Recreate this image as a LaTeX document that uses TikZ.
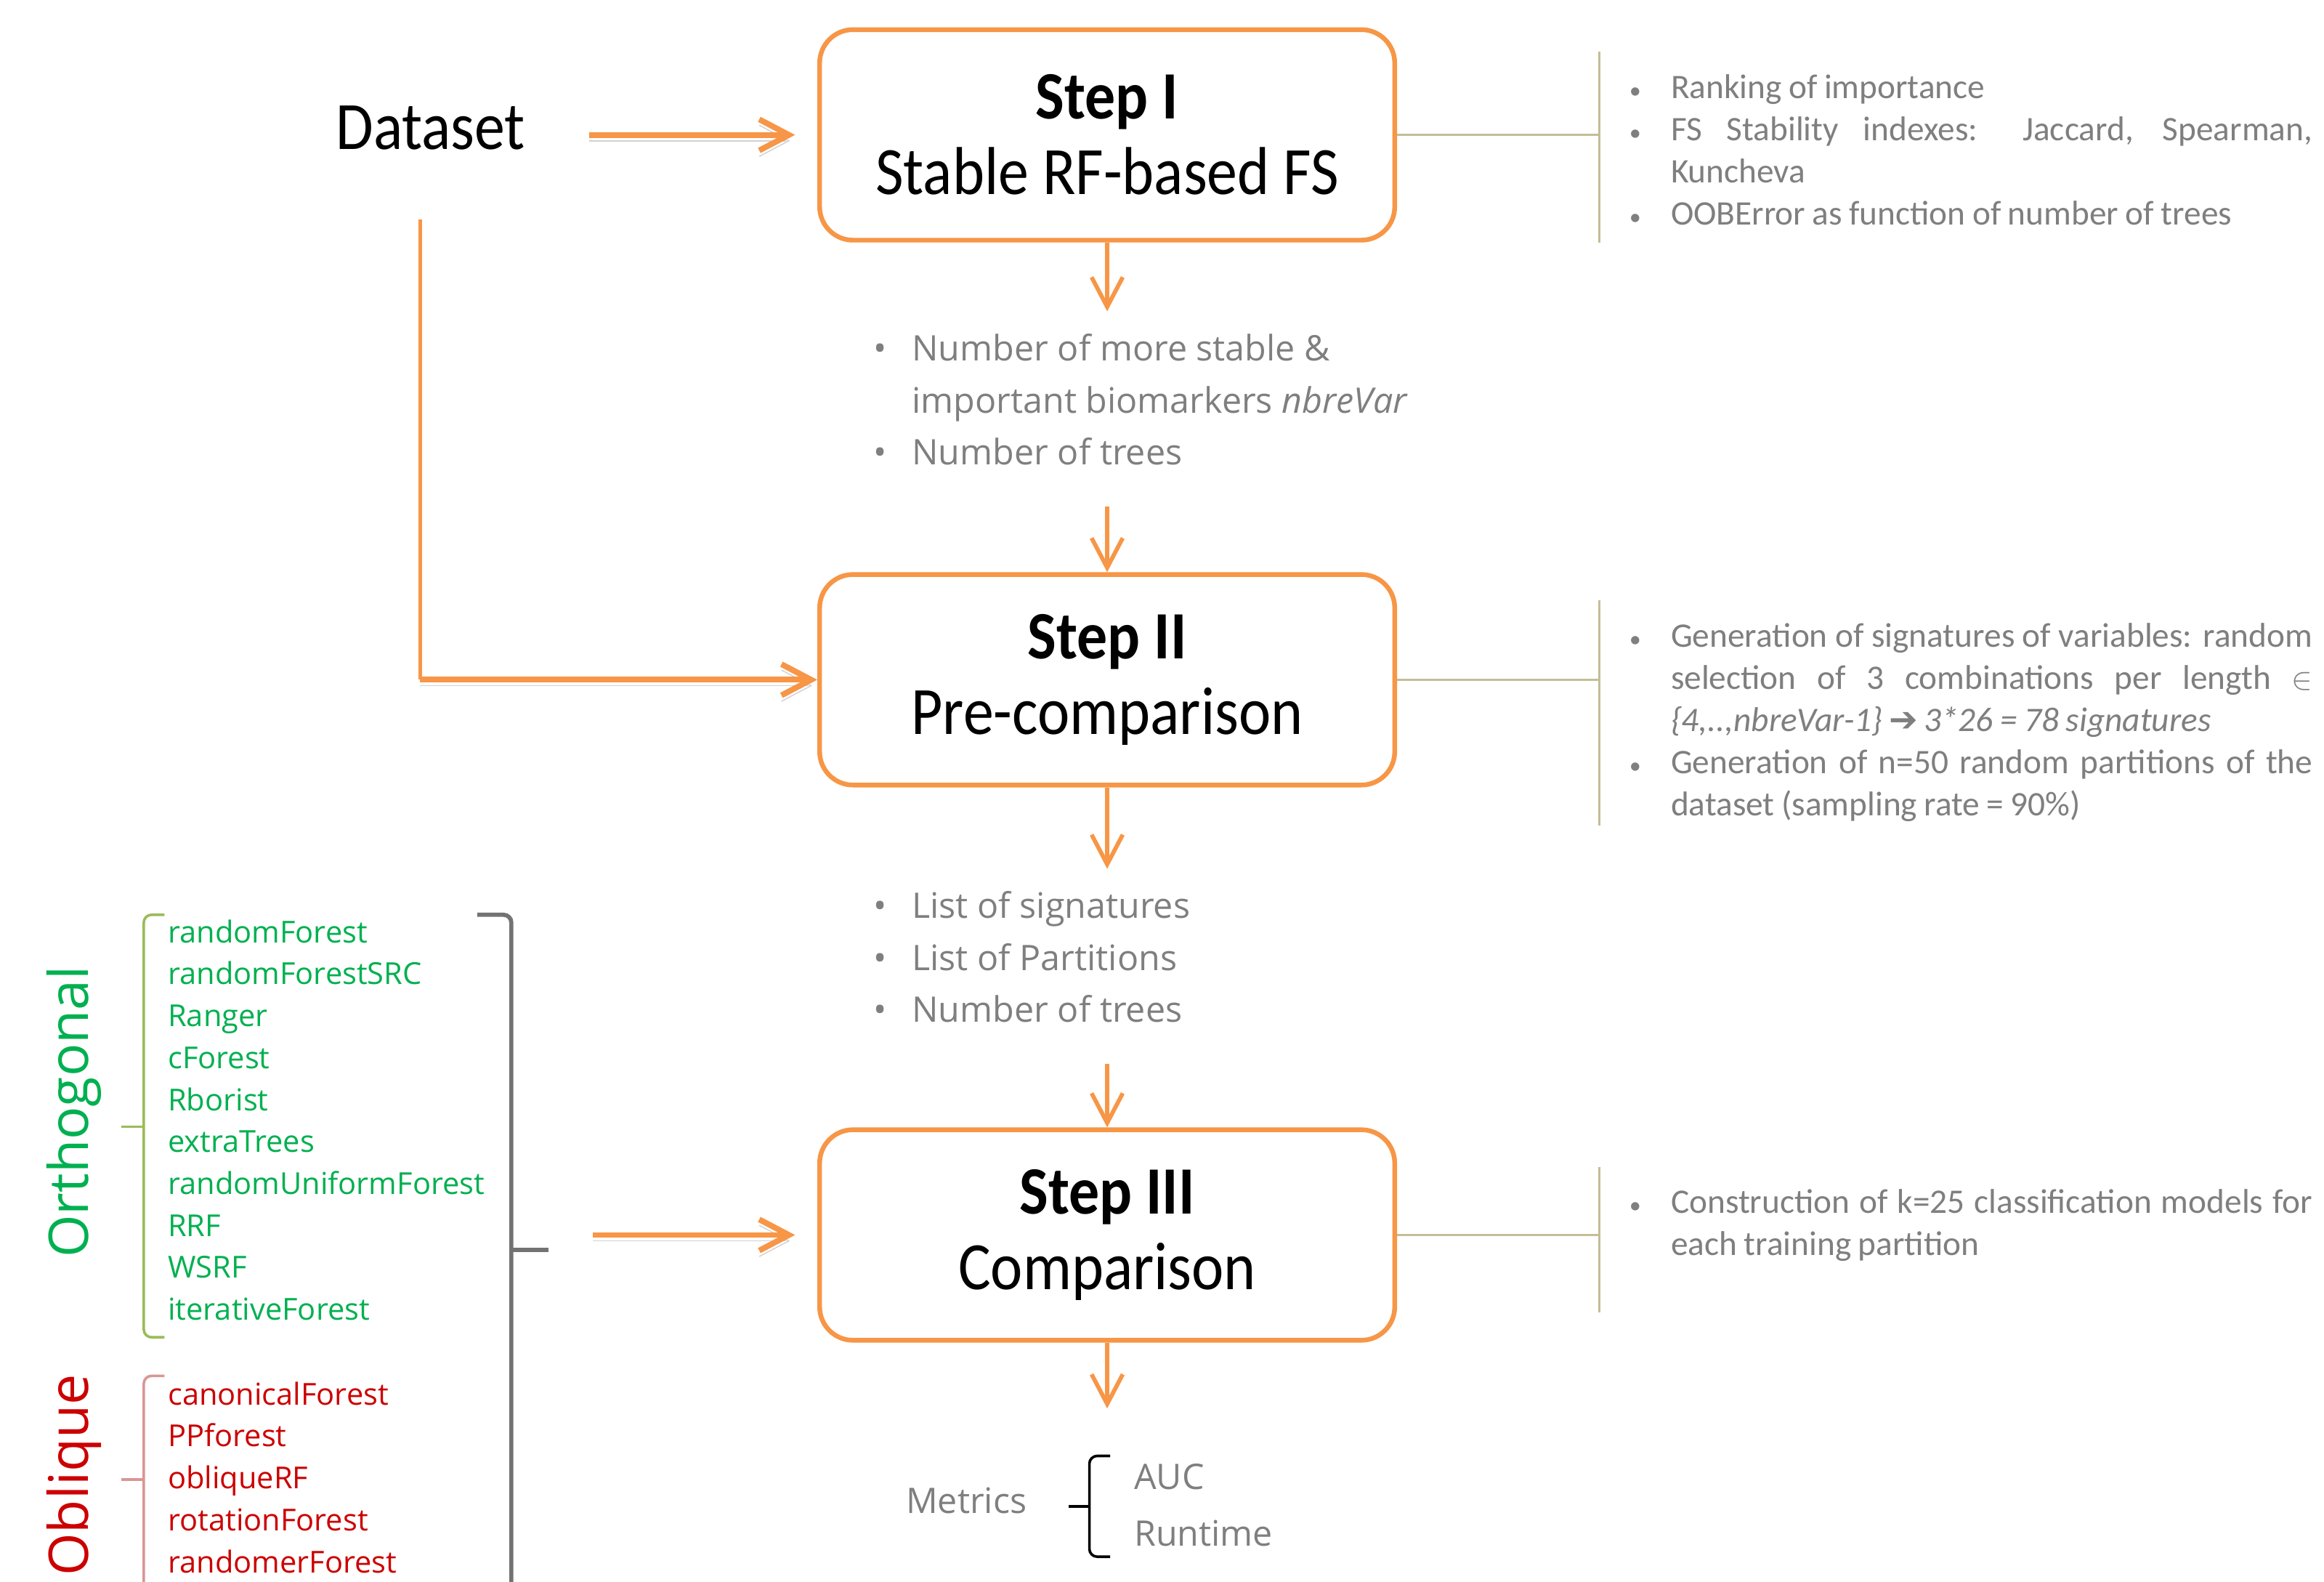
\documentclass[tikz,border=0pt]{standalone}
\usepackage{fontspec}
\setmainfont{Carlito}
\newfontfamily\titlefont{Carlito}[FakeStretch=0.9]
\newfontfamily\listfont{Open Sans}
\newfontfamily\symfont{DejaVu Sans}
\usetikzlibrary{arrows.meta}

\definecolor{stepOrange}{HTML}{F79646}
\definecolor{ruleTan}{HTML}{C4BD97}
\definecolor{noteGrey}{HTML}{7F7F7F}
\definecolor{orthoGreen}{HTML}{00B050}
\definecolor{orthoBrace}{HTML}{9BBB59}
\definecolor{obliqueRed}{HTML}{CC0000}
\definecolor{obliqueBrace}{HTML}{D99694}

\newcommand{\bul}{\makebox[0.52cm][l]{\textbullet}}
\newcommand{\nitem}{\par\noindent\hangindent=0.56cm\hangafter=1%
  \makebox[0.56cm][l]{{\fontsize{9}{9}\selectfont\textbullet}}}

\begin{document}
\begin{tikzpicture}[>={Straight Barb[length=0.4cm,width=0.42cm]},
    stepbox/.style={draw=stepOrange, line width=1.8pt, rounded corners=0.45cm,
      minimum width=7.76cm, minimum height=2.84cm, align=center,
      font=\titlefont\fontsize{26}{29}\selectfont},
    flow/.style={->, draw=stepOrange, line width=1.6pt},
    orangerule/.style={draw=stepOrange, line width=1.6pt},
    bigflow/.style={->, draw=stepOrange, line width=2.2pt,
      preaction={draw=black!18, transform canvas={yshift=-0.08cm}}},
    noterule/.style={draw=ruleTan, line width=1pt},
    note/.style={anchor=north west, text width=9.22cm, inner xsep=0.4cm,
      inner ysep=0.05cm, align=justify, text=noteGrey,
      font={\fontsize{13.2}{16.2}\selectfont\hyphenpenalty=10000
        \spaceskip=.2em plus .6em minus .1em}},
    listtext/.style={text=noteGrey, font=\listfont\fontsize{13.5}{19.9}\selectfont},
    midlist/.style={listtext, anchor=north west, inner xsep=0pt,
      inner ysep=0.3cm, align=left},
    forestlist/.style={anchor=west, inner sep=0pt, align=left,
      font=\listfont\fontsize{11.6}{16.1}\selectfont},
    family/.style={rotate=90, font=\listfont\fontsize{21}{24}\selectfont},
    brace/.style={line width=1pt, rounded corners=3pt}]

  \useasboundingbox (0,0) rectangle (31.36,-21.34);
  \fill[white] (0,0) rectangle (31.36,-21.34);
  \clip (0,0) rectangle (31.36,-21.34);

  \node[stepbox] (step1) at (14.94,-1.82) {\textbf{Step I}\\Stable RF-based FS};
  \node[stepbox] (step2) at (14.94,-9.17) {\textbf{Step II}\\Pre-comparison};
  \node[stepbox] (step3) at (14.94,-16.66) {\textbf{Step III}\\Comparison};
  \node[inner sep=0pt, font=\titlefont\fontsize{26}{29}\selectfont] (dataset) at (5.81,-1.72) {Dataset};

  \node[midlist] (out1) at (11.78,-4.2) {\bul Number of more stable \&\\
    \hspace*{0.52cm}important biomarkers \textit{nbreVar}\\\bul Number of trees};
  \node[midlist] (out2) at (11.78,-11.72) {\bul List of signatures\\
    \bul List of Partitions\\\bul Number of trees};

  \node[listtext] (metrics) at (13.04,-20.24) {Metrics};
  \node[listtext, anchor=west] (auc) at (15.18,-19.92) {AUC};
  \node[listtext, anchor=west] (runtime) at (15.18,-20.68) {Runtime};
  \draw[brace, black] (14.98,-19.64) -- (14.7,-19.64) -- (14.7,-21.0) -- (14.98,-21.0);
  \draw[brace, black] (14.7,-20.32) -- (14.42,-20.32);

  \node[note] (note1) at (21.58,-0.7) {\nitem Ranking of importance
    \nitem FS Stability indexes: Jaccard, Spearman, Kuncheva
    \nitem OOBError as function of number of trees\par};
  \node[note] (note2) at (21.58,-8.1) {\nitem Generation of signatures of variables: random
    selection of 3 combinations per length $\in$ \textit{\{4,..,nbreVar-1\}}
    {\symfont ➔}\,\textit{3*26 = 78 signatures}
    \nitem Generation of n=50 random partitions of the dataset (sampling rate = 90\%)\par};
  \node[note] (note3) at (21.58,-15.74) {\nitem Construction of k=25 classification
    models for each training partition\par};

  \draw[noterule] (step1.east) -- (step1.east -| note1.west);
  \draw[noterule] (note1.north west) -- ([yshift=-0.18cm]note1.south west);
  \draw[noterule] (step2.east) -- (step2.east -| note2.west);
  \draw[noterule] (note2.north west) -- (note2.south west);
  \draw[noterule] (step3.east) -- (step3.east -| note3.west);
  \draw[noterule] (note3.north west) -- ([yshift=-0.63cm]note3.south west);

  \node[family, text=orthoGreen] (ortho) at (1.0,-15.0) {Orthogonal};
  \node[family, text=obliqueRed] (oblique) at (1.0,-19.9) {Oblique};
  \node[forestlist, text=orthoGreen] (orthoalgos) at (2.26,-15.11) {randomForest\\
    randomForestSRC\\Ranger\\cForest\\Rborist\\extraTrees\\randomUniformForest\\
    RRF\\WSRF\\iterativeForest};
  \node[forestlist, text=obliqueRed] (obliquealgos) at (2.26,-19.93) {canonicalForest\\
    PPforest\\obliqueRF\\rotationForest\\randomerForest};

  \draw[brace, orthoBrace] (2.22,-12.34) -- (1.94,-12.34) -- (1.94,-18.04) -- (2.22,-18.04);
  \draw[brace, orthoBrace] (1.94,-15.2) -- (1.64,-15.2);
  \draw[brace, obliqueBrace] (2.22,-18.56) -- (1.94,-18.56) -- (1.94,-21.9);
  \draw[brace, obliqueBrace] (1.94,-19.96) -- (1.64,-19.96);
  \draw[brace, black!55, line width=1.6pt] (6.44,-12.34) -- (6.9,-12.34) -- (6.9,-21.9);
  \draw[brace, black!55, line width=1.6pt] (6.9,-16.86) -- (7.4,-16.86);

  \coordinate (bend) at ([xshift=-1.4mm]dataset.south |- step2.west);
  \coordinate (algos) at (8.0,-16.66);
  \coordinate (results) at (14.94,-19.0);

  \draw[bigflow, shorten <=0.86cm, shorten >=0.3cm] (dataset.east |- step1.west) -- (step1.west);
  \draw[orangerule, shorten <=0.94cm] ([xshift=-1.4mm]dataset.south) -- (bend);
  \draw[bigflow] (bend) -- (step2.west);
  \draw[bigflow, shorten >=0.3cm] (algos) -- (step3.west);
  \draw[flow] (step1.south) -- (out1.north -| step1.south);
  \draw[flow, shorten <=0.25cm] (out1.south -| step2.north) -- (step2.north);
  \draw[flow] (step2.south) -- (out2.north -| step2.south);
  \draw[flow, shorten <=0.25cm] (out2.south -| step3.north) -- (step3.north);
  \draw[flow] (step3.south) -- (results);
\end{tikzpicture}
\end{document}
